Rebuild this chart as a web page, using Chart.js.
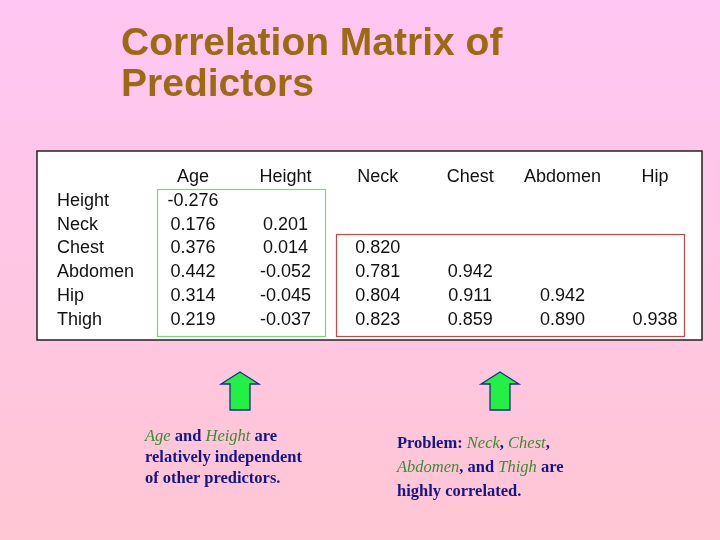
<!DOCTYPE html>
<html><head><meta charset="utf-8">
<script src="https://cdn.jsdelivr.net/npm/chart.js@4"></script>
<style>
html,body{margin:0;padding:0;width:720px;height:540px;overflow:hidden;}
body{background:linear-gradient(#ffc6f4,#ffc6d4);position:relative;font-family:"Liberation Serif",serif;}
#c{position:absolute;left:0;top:0;}
.title{position:absolute;left:121px;top:21px;font:bold 39px "Liberation Sans",Arial,sans-serif;color:#9c6a12;line-height:41px;}
.note{position:absolute;font-size:16.5px;line-height:21px;color:#15158a;font-weight:bold;}
.note i{color:#3c8a32;font-weight:normal;}
</style></head><body>
<canvas id="c" width="720" height="540"></canvas>
<div class="title">Correlation Matrix of<br>Predictors</div>
<div class="note" style="left:145px;top:425px;width:210px;"><i>Age</i> and <i>Height</i> are<br>relatively independent<br>of other predictors.</div>
<div class="note" style="left:397px;top:431px;width:230px;line-height:24px;">Problem: <i>Neck</i>, <i>Chest</i>,<br><i>Abdomen</i>, and <i>Thigh</i> are<br>highly correlated.</div>
<script>
const colLabels = ["Age","Height","Neck","Chest","Abdomen","Hip"];
const rowLabels = ["Height","Neck","Chest","Abdomen","Hip","Thigh"];
// values[col] = correlations down that column, starting at the row below the diagonal
const ageCol     = [-0.276,0.176,0.376,0.442,0.314,0.219];
const heightCol  = [0.201,0.014,-0.052,-0.045,-0.037];
const neckCol    = [0.820,0.781,0.804,0.823];
const chestCol   = [0.942,0.911,0.859];
const abdomenCol = [0.942,0.890];
const hipCol     = [0.938];
const cols = [ageCol,heightCol,neckCol,chestCol,abdomenCol,hipCol];

const pts = [];
cols.forEach((arr,ci)=>arr.forEach((v,k)=>pts.push({x:ci+1,y:ci+k+1,v:v})));

const tablePlugin = {
  id:'table',
  beforeDatasetsDraw(chart){
    const c = chart.ctx, xs = chart.scales.x, ys = chart.scales.y;
    c.save();
    c.fillStyle='#fff'; c.fillRect(37,151,665,189);
    c.strokeStyle='#222'; c.lineWidth=1.5; c.strokeRect(37,151,665,189);
    c.lineWidth=1.2;
    c.strokeStyle='#7ad67a'; c.strokeRect(157.5,189.5,168,147);
    c.strokeStyle='#c84848'; c.strokeRect(336.5,234.5,348,102);
    c.font='18px "Liberation Sans",Arial,sans-serif'; c.fillStyle='#111';
    c.textBaseline='middle';
    c.textAlign='center';
    colLabels.forEach((l,i)=>c.fillText(l,xs.getPixelForValue(i+1),ys.getPixelForValue(0)));
    c.textAlign='left';
    rowLabels.forEach((l,i)=>c.fillText(l,57,ys.getPixelForValue(i+1)));
    c.textAlign='center';
    pts.forEach(p=>c.fillText(p.v.toFixed(3),xs.getPixelForValue(p.x),ys.getPixelForValue(p.y)));
    // arrows
    [240,500].forEach(ax=>{
      c.beginPath();
      c.moveTo(ax,372); c.lineTo(ax+19,384); c.lineTo(ax+10,384); c.lineTo(ax+10,410);
      c.lineTo(ax-10,410); c.lineTo(ax-10,384); c.lineTo(ax-19,384); c.closePath();
      c.fillStyle='#22f044'; c.fill(); c.strokeStyle='#1a2a8a'; c.lineWidth=1.3; c.stroke();
    });
    c.restore();
  }
};

new Chart(document.getElementById('c'),{
  type:'scatter',
  data:{datasets:[{data:pts,pointRadius:0}]},
  options:{
    responsive:false,animation:false,
    layout:{padding:{left:100.6,right:65,top:177,bottom:220}},
    plugins:{legend:{display:false},tooltip:{enabled:false}},
    scales:{
      x:{type:'linear',min:0,max:6,display:false},
      y:{type:'linear',min:0,max:6,reverse:true,display:false}
    }
  },
  plugins:[tablePlugin]
});
</script>
</body></html>
